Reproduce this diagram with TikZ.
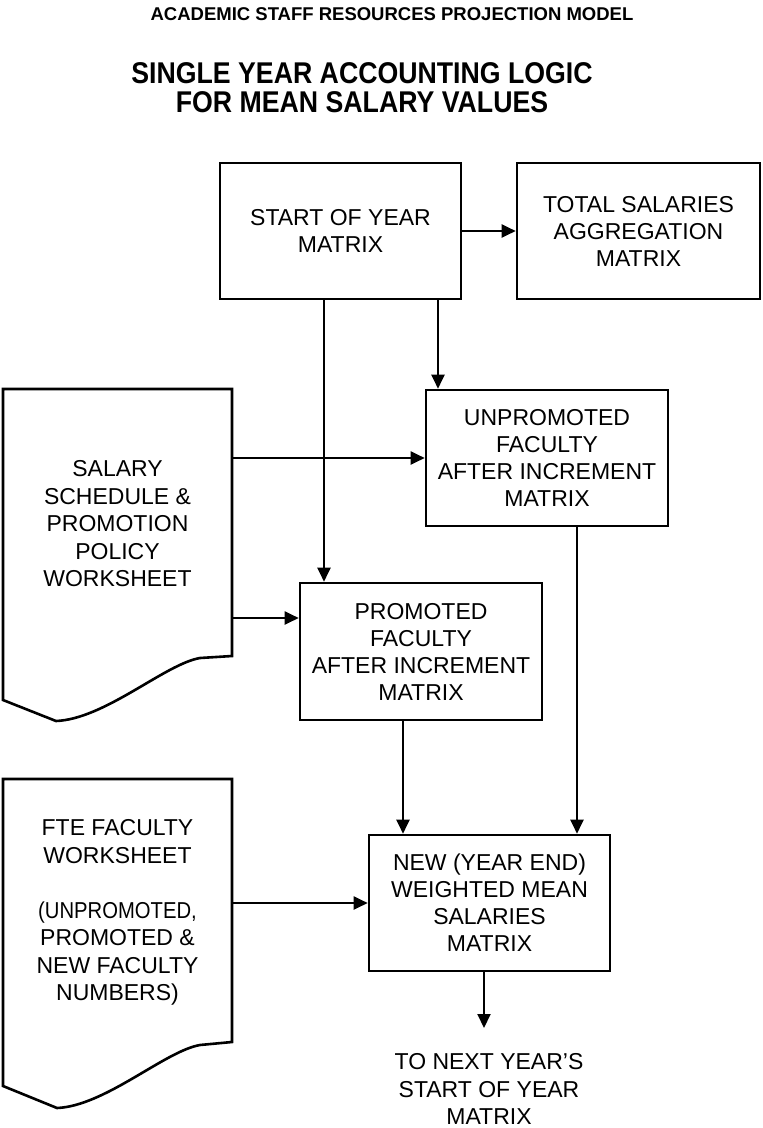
\documentclass[tikz,border=0pt]{standalone}
\usepackage{fontspec}
\setmainfont{Liberation Sans}
\newfontfamily\titlefont{Liberation Sans}[FakeStretch=0.89]
\newfontfamily\narrowfont{Liberation Sans}[FakeStretch=0.88]
\usetikzlibrary{arrows.meta,calc}
\tikzset{
  box/.style={draw, line width=2.6pt, minimum width=241pt, minimum height=136pt,
    align=center, inner sep=0pt, font=\fontsize{23}{27}\selectfont},
  doctext/.style={align=center, inner sep=0pt, font=\fontsize{23}{27.5}\selectfont},
  docshape/.style={draw, line width=2.6pt, line join=miter},
  arr/.style={line width=2pt, -{Triangle[length=14pt,width=13pt]}},
}
\begin{document}
\begin{tikzpicture}[x=1pt,y=-1pt]
\useasboundingbox (0,0) rectangle (763,1128);
% titles
\node[font=\fontsize{18.5}{22}\selectfont\bfseries, inner sep=0pt] (maintitle) at (392,14)
  {ACADEMIC STAFF RESOURCES PROJECTION MODEL};
\node[font=\titlefont\fontsize{30}{29}\selectfont\bfseries, align=center, inner sep=0pt] (subtitle) at (362,88)
  {SINGLE YEAR ACCOUNTING LOGIC\\FOR MEAN SALARY VALUES};
% boxes
\node[box] (start) at (340.5,231) {START OF YEAR\\MATRIX};
\node[box, minimum width=243pt] (total) at (638.5,231) {TOTAL SALARIES\\AGGREGATION\\MATRIX};
\node[box, minimum width=242pt] (unprom) at (547,458) {UNPROMOTED\\FACULTY\\AFTER INCREMENT\\MATRIX};
\node[box, minimum width=242pt, minimum height=137pt] (prom) at (421,651.5) {PROMOTED\\FACULTY\\AFTER INCREMENT\\MATRIX};
\node[box] (newsal) at (489.5,903) {NEW (YEAR END)\\WEIGHTED MEAN\\SALARIES\\MATRIX};
\node[doctext] (nextyear) at (489,1089) {TO NEXT YEAR'S\\START OF YEAR\\MATRIX};
% document shapes
\draw[docshape] (3,389) -- (232,389) -- (232,656) -- (200,658)
  .. controls (165,664) and (105,719) .. (56,721) -- (3,700) -- cycle;
\node[doctext] (salary) at (117.5,524) {SALARY\\SCHEDULE \&\\PROMOTION\\POLICY\\WORKSHEET};
\coordinate (salE) at (232,500);
\coordinate (salP) at (232,618);
\draw[docshape] (3,779) -- (232,779) -- (232,1042) -- (200,1045)
  .. controls (165,1051) and (105,1106) .. (57,1108) -- (3,1086) -- cycle;
\node[doctext] (fte) at (117.5,912.5) {FTE FACULTY\\WORKSHEET\\[27.5pt]{\narrowfont (UNPROMOTED,}\\PROMOTED \&\\NEW FACULTY\\NUMBERS)};
\coordinate (fteE) at (232,900);
% connector columns
\coordinate (c438) at (438,0);
\coordinate (c324) at (324,0);
\coordinate (c403) at (403,0);
\coordinate (c577) at (577,0);
\coordinate (nextEnd) at (484,1028);
% connectors
\draw[arr] (start.east) -- (total.west);
\draw[arr] (start.south -| c438) -- (unprom.north -| c438);
\draw[arr] (start.south -| c324) -- (prom.north -| c324);
\draw[arr] (unprom.west -| salE) -- (unprom.west);
\draw[arr] (salP) -- (salP -| prom.west);
\draw[arr] (prom.south -| c403) -- (newsal.north -| c403);
\draw[arr] (unprom.south -| c577) -- (newsal.north -| c577);
\draw[arr] (newsal.west -| fteE) -- (newsal.west);
\draw[arr] (newsal.south -| nextEnd) -- (nextEnd);
\end{tikzpicture}
\end{document}
